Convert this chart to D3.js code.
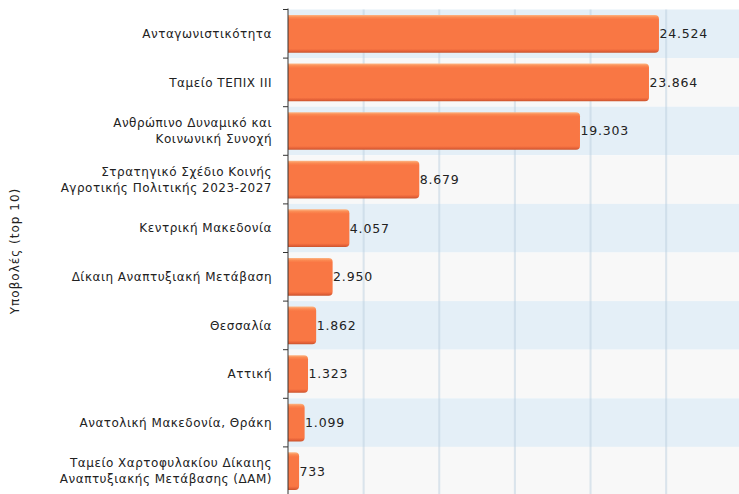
<!DOCTYPE html>
<html>
<head>
<meta charset="utf-8">
<script src="https://cdn.jsdelivr.net/npm/d3@7"></script>
<style>
  body { margin: 0; background: #fff; }
  svg { display: block; font-family: "DejaVu Sans", sans-serif; }
</style>
</head>
<body>
<div id="chart"></div>
<script>
// data
var categories = [
  ["Ανταγωνιστικότητα"],
  ["Ταμείο ΤΕΠΙΧ ΙΙΙ"],
  ["Ανθρώπινο Δυναμικό και", "Κοινωνική Συνοχή"],
  ["Στρατηγικό Σχέδιο Κοινής", "Αγροτικής Πολιτικής 2023-2027"],
  ["Κεντρική Μακεδονία"],
  ["Δίκαιη Αναπτυξιακή Μετάβαση"],
  ["Θεσσαλία"],
  ["Αττική"],
  ["Ανατολική Μακεδονία, Θράκη"],
  ["Ταμείο Χαρτοφυλακίου Δίκαιης", "Αναπτυξιακής Μετάβασης (ΔΑΜ)"]
];
var values = [24524, 23864, 19303, 8679, 4057, 2950, 1862, 1323, 1099, 733];
var gridTicks = [5000, 10000, 15000, 20000, 25000];
var axisTitle = "Υποβολές (top 10)";

function createChart() {
  var width = 739, height = 494;
  var margin = { top: 9.5, left: 288 };
  var plotBottom = 495.5;

  var svg = d3.select("#chart").append("svg")
    .attr("width", width)
    .attr("height", height);

  var x = d3.scaleLinear().domain([0, 30000]).range([margin.left, margin.left + 453.8]);
  var y = d3.scaleBand().domain(d3.range(values.length)).range([margin.top, plotBottom]).paddingInner(0.225).paddingOuter(0.1125);
  var rowH = (plotBottom - margin.top) / values.length;

  var defs = svg.append("defs");
  var grad = defs.append("linearGradient").attr("id", "barGrad")
    .attr("x1", 0).attr("y1", 0).attr("x2", 0).attr("y2", 1);
  grad.append("stop").attr("offset", "0%").attr("stop-color", "#fdb684");
  grad.append("stop").attr("offset", "6%").attr("stop-color", "#fb8a52");
  grad.append("stop").attr("offset", "12%").attr("stop-color", "#f97744");
  grad.append("stop").attr("offset", "90%").attr("stop-color", "#f97744");
  grad.append("stop").attr("offset", "95%").attr("stop-color", "#e8643a");
  grad.append("stop").attr("offset", "100%").attr("stop-color", "#c9542d");

  // row bands
  svg.append("g").selectAll("rect")
    .data(values)
    .enter().append("rect")
    .attr("x", margin.left)
    .attr("y", (d, i) => margin.top + i * rowH)
    .attr("width", width - margin.left)
    .attr("height", rowH)
    .attr("fill", (d, i) => i % 2 === 0 ? "#e4eff7" : "#f8f8f8");

  // grid
  svg.append("g").selectAll("line")
    .data(gridTicks)
    .enter().append("line")
    .attr("x1", d => x(d)).attr("x2", d => x(d))
    .attr("y1", margin.top).attr("y2", plotBottom)
    .attr("stroke", "#bcd0df")
    .attr("stroke-opacity", 0.5)
    .attr("stroke-width", 2);

  // bars
  var r = 4;
  svg.append("g").selectAll("path")
    .data(values)
    .enter().append("path")
    .attr("fill", "url(#barGrad)")
    .attr("d", function (d, i) {
      var x0 = x(0), x1 = x(d), y0 = y(i), h = y.bandwidth();
      var rr = Math.min(r, (x1 - x0) / 2);
      return "M" + x0 + "," + y0 +
        "H" + (x1 - rr) + "Q" + x1 + "," + y0 + " " + x1 + "," + (y0 + rr) +
        "V" + (y0 + h - rr) + "Q" + x1 + "," + (y0 + h) + " " + (x1 - rr) + "," + (y0 + h) +
        "H" + x0 + "Z";
    });

  // value labels
  svg.append("g")
    .attr("font-size", 12.5)
    .attr("letter-spacing", 0.8)
    .attr("fill", "#222")
    .selectAll("text")
    .data(values)
    .enter().append("text")
    .attr("x", d => x(d) + 0.5)
    .attr("y", (d, i) => y(i) + y.bandwidth() / 2)
    .attr("dy", "0.35em")
    .text(d => d3.format(",")(d).replace(/,/g, "."));

  // y axis
  var axis = svg.append("g");
  axis.append("line")
    .attr("x1", margin.left).attr("x2", margin.left)
    .attr("y1", margin.top - 1).attr("y2", plotBottom)
    .attr("stroke", "#333");
  axis.selectAll(".tick")
    .data(d3.range(values.length))
    .enter().append("line")
    .attr("x1", margin.left - 5).attr("x2", margin.left)
    .attr("y1", i => margin.top + i * rowH).attr("y2", i => margin.top + i * rowH)
    .attr("stroke", "#333");

  // category labels
  var lab = svg.append("g")
    .attr("font-size", 12)
    .attr("letter-spacing", 0.5)
    .attr("fill", "#222")
    .attr("text-anchor", "end")
    .selectAll("text")
    .data(categories)
    .enter().append("text")
    .attr("transform", (d, i) => "translate(272," + (y(i) + y.bandwidth() / 2) + ")");
  lab.each(function (lines) {
    var t = d3.select(this);
    var lh = 16;
    lines.forEach(function (s, k) {
      t.append("tspan")
        .attr("x", 0)
        .attr("y", (k - (lines.length - 1) / 2) * lh)
        .attr("dy", "0.35em")
        .text(s);
    });
  });

  // axis title
  svg.append("text")
    .attr("transform", "translate(19,251) rotate(-90)")
    .attr("text-anchor", "middle")
    .attr("font-size", 12)
    .attr("letter-spacing", 1)
    .attr("fill", "#222")
    .text(axisTitle);
}

createChart();
</script>
</body>
</html>
